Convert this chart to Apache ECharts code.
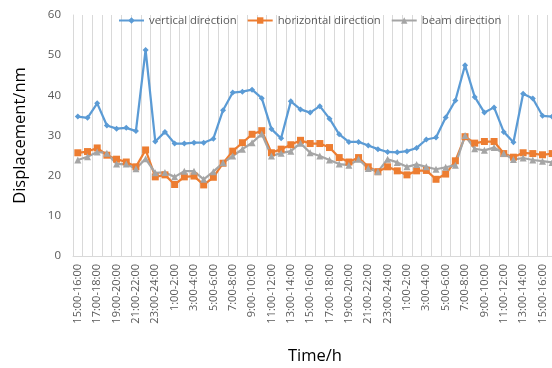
<!DOCTYPE html>
<html>
<head>
<meta charset="utf-8">
<script src="https://cdn.jsdelivr.net/npm/echarts@6/dist/echarts.min.js"></script>
<style>
  html, body { margin: 0; padding: 0; background: #fff; }
  #chart { width: 552px; height: 368px; }
</style>
</head>
<body>
<div id="chart"></div>
<script>
// hourly periods, two days
const hours = [15, 16, 17, 18, 19, 20, 21, 22, 23, 0, 1, 2, 3, 4, 5, 6, 7, 8, 9, 10, 11, 12, 13, 14,
  15, 16, 17, 18, 19, 20, 21, 22, 23, 0, 1, 2, 3, 4, 5, 6, 7, 8, 9, 10, 11, 12, 13, 14, 15, 16];
const categories = hours.map(h => h + ":00-" + (h + 1) + ":00");

const vertical = [34.7, 34.4, 38.0, 32.5, 31.7, 31.9, 31.1, 51.3, 28.5, 30.9,
  28.0, 28.0, 28.2, 28.2, 29.2, 36.3, 40.7, 40.9, 41.4, 39.3,
  31.6, 29.3, 38.5, 36.5, 35.7, 37.3, 34.2, 30.3, 28.4, 28.4,
  27.5, 26.6, 25.9, 25.8, 26.1, 26.9, 29.0, 29.5, 34.5, 38.7,
  47.5, 39.6, 35.7, 37.0, 30.9, 28.3, 40.4, 39.2, 34.9, 34.7];
const horizontal = [25.7, 26.0, 26.9, 25.1, 24.1, 23.4, 22.2, 26.4, 19.7, 20.2,
  17.8, 19.7, 19.9, 17.7, 19.6, 23.1, 26.1, 28.2, 30.3, 31.2,
  25.7, 26.6, 27.7, 28.8, 28.0, 28.0, 27.0, 24.5, 23.4, 24.5,
  22.2, 21.0, 22.2, 21.2, 20.2, 21.2, 21.3, 19.1, 20.4, 23.7,
  29.7, 28.1, 28.5, 28.5, 25.5, 24.6, 25.7, 25.5, 25.2, 25.5];
const beam = [23.9, 24.7, 25.9, 25.6, 22.9, 22.9, 21.7, 24.2, 20.7, 20.8,
  19.7, 21.1, 21.1, 19.1, 21.0, 23.2, 24.9, 26.6, 28.2, 30.4,
  24.9, 25.6, 26.1, 28.1, 25.7, 24.9, 23.9, 22.9, 22.6, 24.1,
  21.8, 21.0, 24.1, 23.3, 22.2, 22.8, 22.2, 21.6, 22.1, 22.6,
  30.0, 26.7, 26.3, 27.0, 25.5, 24.0, 24.4, 23.9, 23.6, 23.3];

const chart = echarts.init(document.getElementById("chart"));
const font = "Open Sans";

function line(name, data, color, symbol, size) {
  return {
    name: name,
    type: "line",
    data: data,
    symbol: symbol,
    symbolSize: size,
    showAllSymbol: true,
    lineStyle: { color: color, width: 2.25 },
    itemStyle: { color: color },
    animation: false
  };
}

chart.setOption({
  textStyle: { fontFamily: font },
  legend: {
    top: 10,
    left: 113,
    itemWidth: 25,
    itemHeight: 8,
    itemGap: 10,
    textStyle: { color: "#595959", fontSize: 11.3, fontFamily: font }
  },
  grid: { left: 73, right: -5, top: 15, bottom: 112, outerBoundsMode: "none" },
  xAxis: {
    type: "category",
    data: categories,
    boundaryGap: true,
    name: "Time/h",
    nameLocation: "middle",
    nameGap: 92,
    nameTextStyle: { color: "#000", fontSize: 16.5, fontFamily: font },
    axisLine: { lineStyle: { color: "#d9d9d9" } },
    axisTick: { show: false },
    splitLine: { show: true, interval: 0, lineStyle: { color: "#d9d9d9" } },
    axisLabel: { rotate: 90, interval: 1, color: "#595959", fontSize: 11, margin: 8 }
  },
  yAxis: {
    type: "value",
    min: 0,
    max: 60,
    interval: 10,
    name: "Displacement/nm",
    nameLocation: "middle",
    nameGap: 44,
    nameTextStyle: { color: "#000", fontSize: 16.5, fontFamily: font },
    axisLine: { show: true, lineStyle: { color: "#d9d9d9" } },
    axisTick: { show: false },
    splitLine: { show: false },
    axisLabel: { color: "#595959", fontSize: 11.5, margin: 12 }
  },
  series: [
    line("vertical direction", vertical, "#5B9BD5", "diamond", 6),
    line("horizontal direction", horizontal, "#ED7D31", "rect", 7),
    line("beam direction", beam, "#A5A5A5", "triangle", 7)
  ]
});
</script>
</body>
</html>
